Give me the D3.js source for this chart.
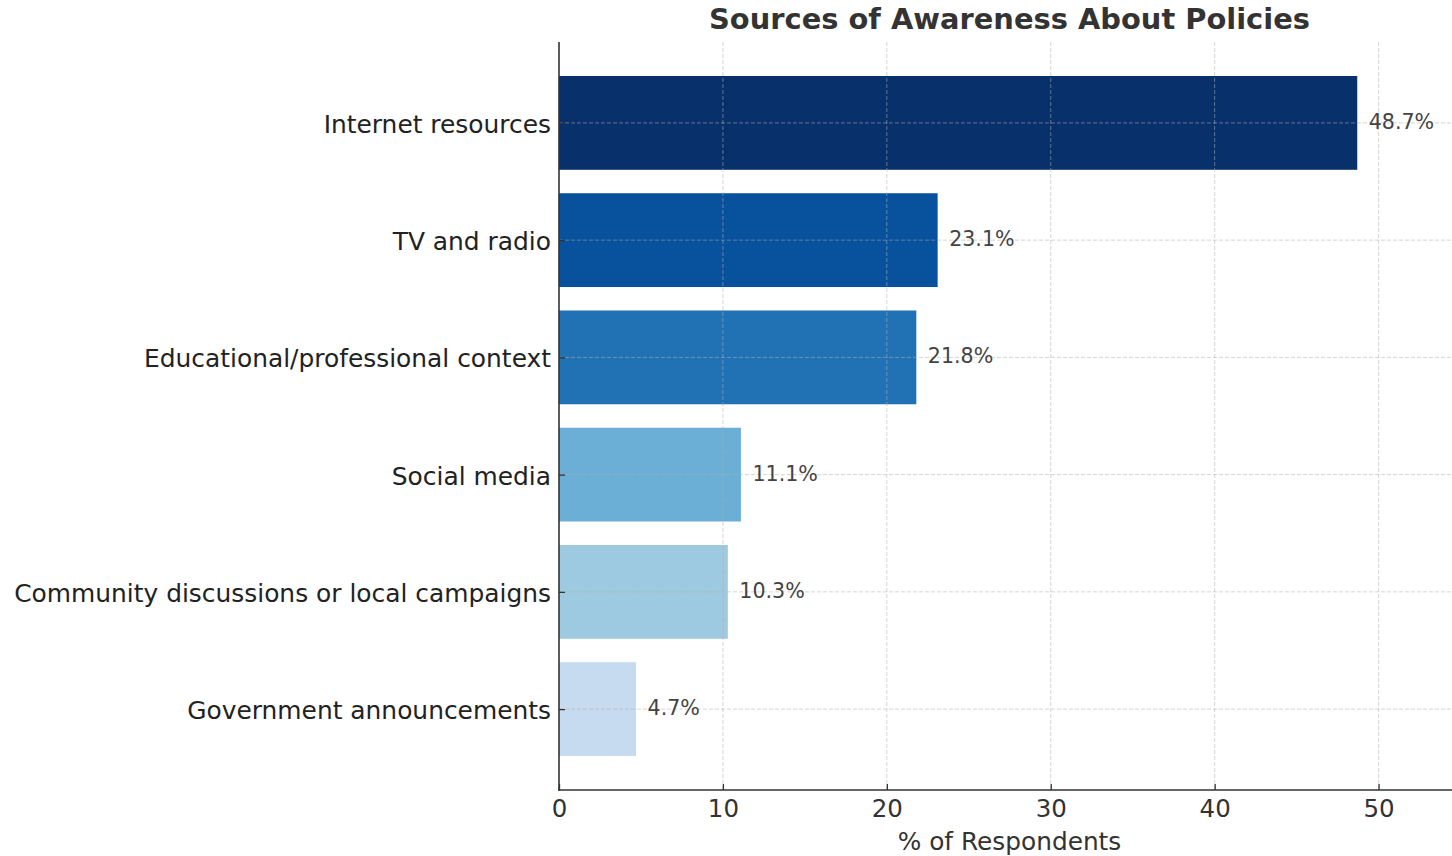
<!DOCTYPE html>
<html><head><meta charset="utf-8">
<script src="https://cdn.jsdelivr.net/npm/d3@7"></script>
<style>body{margin:0;background:#fff;} svg{display:block;}</style>
</head><body><svg id="c" width="1452" height="856"></svg>
<script>
const categories = ["Internet resources","TV and radio","Educational/professional context","Social media","Community discussions or local campaigns","Government announcements"];
const values = [48.7, 23.1, 21.8, 11.1, 10.3, 4.7];
const colors = ["#08306b","#08519c","#2171b5","#6baed6","#9ecae1","#c6dbef"];
const xTicks = [0,10,20,30,40,50];
const title = "Sources of Awareness About Policies";
const xLabel = "% of Respondents";

const svg = d3.select("#c");
const L = 559, R = 1452, T = 42, B = 790;
const font = "DejaVu Sans, sans-serif";
const x = d3.scaleLinear().domain([0, 54.48]).range([L, R]);
const y = d3.scaleLinear().domain([-0.69, 5.69]).range([T, B]);
const bh = (y(0.4) - y(-0.4));

svg.append("g").selectAll("rect").data(values).join("rect")
  .attr("x", x(0)).attr("y", (d,i)=>y(i)-bh/2)
  .attr("width", d=>x(d)-x(0)).attr("height", bh)
  .attr("fill", (d,i)=>colors[i]);

const g = svg.append("g").attr("stroke","#b0b0b0").attr("stroke-opacity",0.6).attr("stroke-width",0.9).attr("stroke-dasharray","4,2");
g.selectAll("line.v").data(xTicks.slice(1)).join("line")
  .attr("x1",d=>x(d)).attr("x2",d=>x(d)).attr("y1",T).attr("y2",B);
g.selectAll("line.h").data(categories).join("line")
  .attr("x1",L).attr("x2",R).attr("y1",(d,i)=>y(i)).attr("y2",(d,i)=>y(i));

const xAxis = d3.axisBottom(x).tickValues(xTicks).tickSize(-6);
const xg = svg.append("g").attr("transform",`translate(0,${B})`).call(xAxis);
xg.select(".domain").remove();
xg.selectAll(".tick line").attr("stroke","#333").attr("stroke-width",1.3);
xg.selectAll(".tick text").attr("font-family",font).attr("font-size",24.5).attr("fill","#333").attr("dy",null).attr("dominant-baseline","central").attr("y",18);

const yAxis = d3.axisLeft(y).tickValues(d3.range(categories.length)).tickFormat(i=>categories[i]).tickSize(-6);
const yg = svg.append("g").attr("transform",`translate(${L},0)`).call(yAxis);
yg.select(".domain").remove();
yg.selectAll(".tick line").attr("stroke","#333").attr("stroke-width",1.3);
yg.selectAll(".tick text").attr("font-family",font).attr("font-size",24.9).attr("fill","#222").attr("x",-8).attr("dy",null).attr("dominant-baseline","central").attr("y",1);

svg.append("line").attr("x1",L).attr("x2",L).attr("y1",T).attr("y2",B+0.8).attr("stroke","#333").attr("stroke-width",1.6);
svg.append("line").attr("x1",L-0.8).attr("x2",R).attr("y1",B).attr("y2",B).attr("stroke","#333").attr("stroke-width",1.6);

svg.append("g").selectAll("text").data(values).join("text")
  .attr("x", d=>x(d)+11.5).attr("y",(d,i)=>y(i)-1).attr("dominant-baseline","central")
  .attr("font-family",font).attr("font-size",20.6).attr("fill","#444")
  .text(d=>d.toFixed(1)+"%");

svg.append("text").attr("x",1009.5).attr("y",29).attr("text-anchor","middle")
  .attr("font-family",font).attr("font-weight","bold").attr("font-size",28.9).attr("fill","#333").text(title);
svg.append("text").attr("x",1009.5).attr("y",850).attr("text-anchor","middle")
  .attr("font-family",font).attr("font-size",24.8).attr("fill","#333").text(xLabel);
</script></body></html>
